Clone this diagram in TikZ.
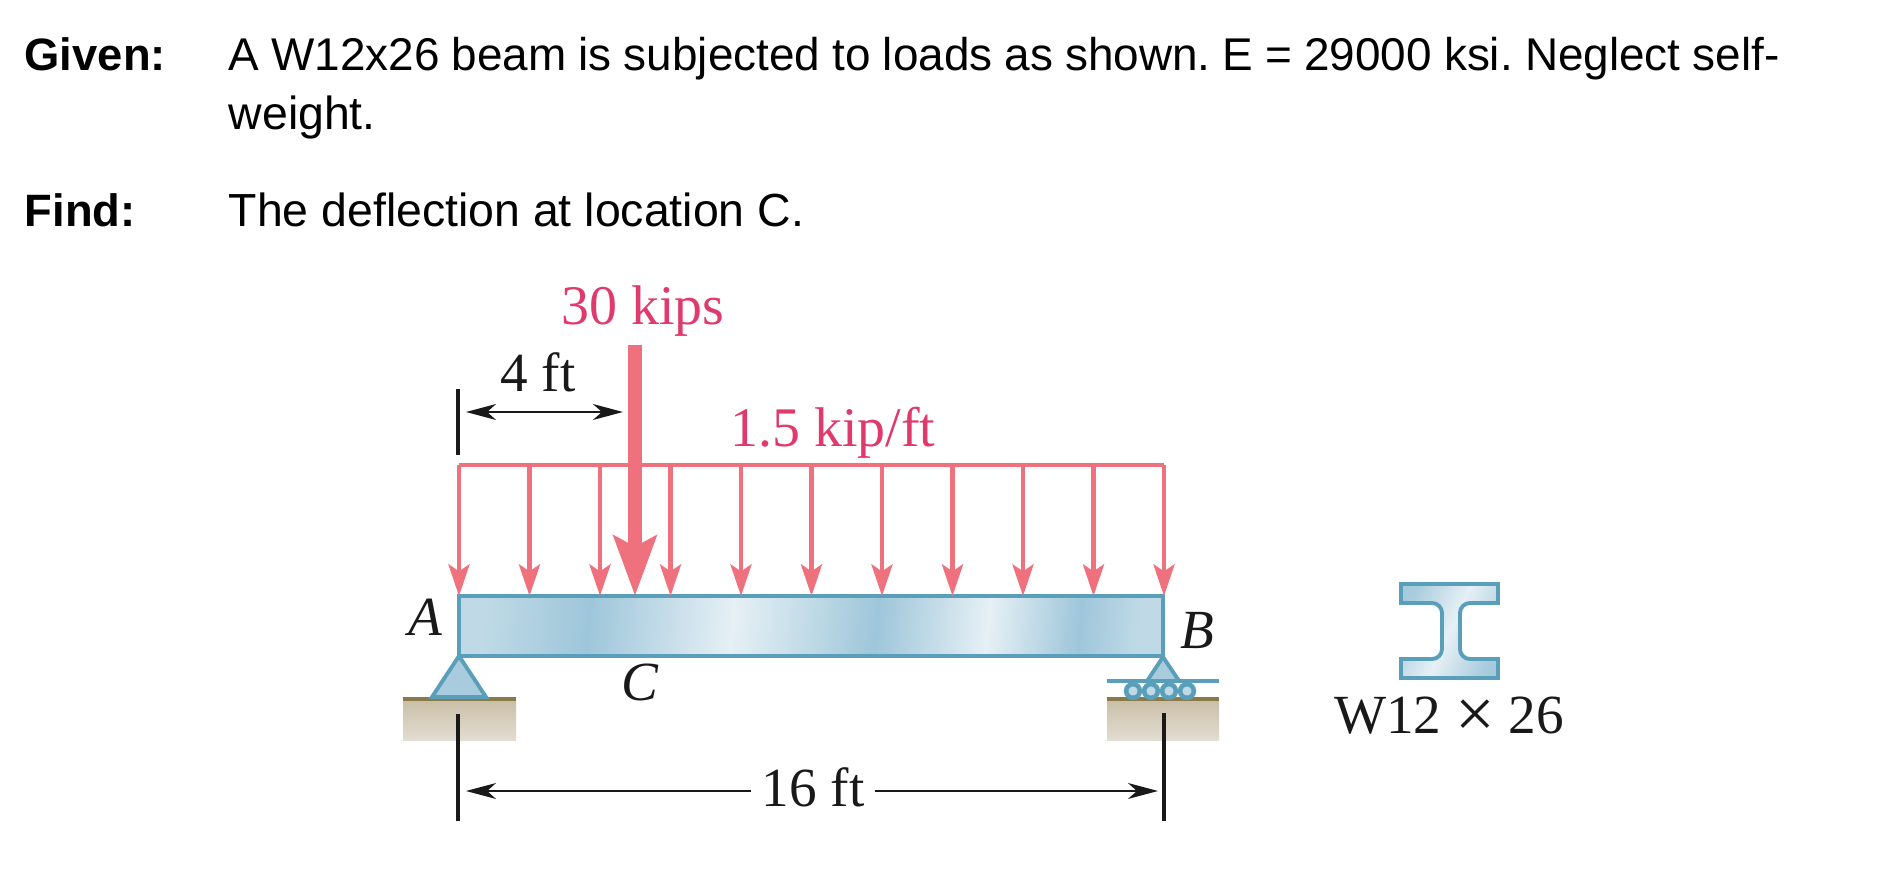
\documentclass[tikz,border=0pt]{standalone}
\usepackage{fontspec}
\setmainfont{Liberation Serif}
\setsansfont{Liberation Sans}
\newfontfamily\longsans[WordSpace=.95]{Liberation Sans}
\usetikzlibrary{arrows.meta}
\frenchspacing

\definecolor{loadpink}{HTML}{F0717E}
\definecolor{labelpink}{HTML}{E03A6C}
\definecolor{steelline}{HTML}{5A9FBA}
\definecolor{groundline}{HTML}{8A7A48}
\definecolor{groundtop}{HTML}{C9BEA6}
\definecolor{groundbot}{HTML}{E2DDD2}
\definecolor{steelA}{HTML}{BFDAE6}
\definecolor{steelB}{HTML}{9EC6DA}
\definecolor{steelC}{HTML}{E6F0F5}
\pgfdeclarehorizontalshading{beamshade}{100bp}{
    color(0bp)=(steelA); color(25bp)=(steelA); color(33bp)=(steelB); color(44bp)=(steelC);
    color(50bp)=(steelA); color(55bp)=(steelB); color(63.5bp)=(steelC); color(70.5bp)=(steelB); color(75bp)=(steelA); color(100bp)=(steelA)}
\pgfdeclarehorizontalshading{sectionshade}{100bp}{
    color(0bp)=(steelB); color(25bp)=(steelB!70!steelA); color(50bp)=(steelC); color(75bp)=(steelB!70!steelA); color(100bp)=(steelB)}

\tikzset{
    textline/.style={inner sep=0, anchor=base west, font=\sffamily\fontsize{13.2pt}{15pt}\selectfont},
    longline/.style={textline, font=\longsans\fontsize{13.05pt}{15pt}\selectfont},
    headline/.style={textline, font=\sffamily\bfseries\fontsize{12.9pt}{15pt}\selectfont},
    loadlabel/.style={inner sep=0, anchor=base, text=labelpink, font=\fontsize{15.9pt}{18pt}\selectfont},
    dimlabel/.style={inner sep=0, anchor=base, text=black!90, font=\fontsize{15.7pt}{18pt}\selectfont},
    pointlabel/.style={dimlabel, font=\itshape\fontsize{15.7pt}{18pt}\selectfont},
    dimline/.style={line width=.7pt, black!90},
    dimtips/.style={{Stealth[length=8.5pt, width=4.5pt, inset=2.5pt]}-{Stealth[length=8.5pt, width=4.5pt, inset=2.5pt]}},
    tickline/.style={line width=1.1pt, black!90},
    udlline/.style={line width=1.4pt, loadpink},
    udlarrow/.style={line width=1.25pt, loadpink, -{Stealth[length=9pt, width=6pt, inset=2pt]}},
    bigarrow/.style={line width=4pt, loadpink, -{Stealth[length=17pt, width=12pt, inset=3pt]}},
    beam/.style={draw=steelline, line width=1.2pt, shading=beamshade, shading angle=-5},
    section/.style={draw=steelline, line width=1.1pt, shading=sectionshade, shading angle=-25},
    pin/.style={draw=steelline, line width=1.1pt, fill=steelB!70!steelA},
    roller/.style={circle, draw=steelline, line width=1.3pt, fill=steelA, minimum size=3.9pt, inner sep=0},
    ground/.style={top color=groundtop, bottom color=groundbot, draw=none}
}

\begin{document}
\begin{tikzpicture}[x=.01cm, y=-.01cm]
    \useasboundingbox (0, 0) rectangle (1881, 885);

    \node[headline] (given) at (24, 71) {Given:};
    \node[longline] (line1) at (228, 71) {A W12x26 beam is subjected to loads as shown. E = 29000 ksi. Neglect self-};
    \node[textline] (line2) at (228, 130) {weight.};
    \node[headline] (find) at (24, 227) {Find:};
    \node[textline] (line3) at (228, 227) {The deflection at location C.};

    % ground and supports
    \fill[ground] (403, 699) rectangle (516, 740);
    \fill[ground] (1107, 699) rectangle (1219, 740);
    \draw[groundline, line width=1.1pt] (403, 699) -- (516, 699);
    \draw[groundline, line width=1.1pt] (1107, 699) -- (1219, 699);
    \draw[pin] (459, 656) -- (486, 697) -- (432, 697) -- cycle;
    \draw[pin] (1163, 657) -- (1179, 681) -- (1147, 681) -- cycle;
    \draw[steelline, line width=1.1pt] (1107, 681) -- (1219, 681);
    \foreach \px [count=\i] in {1133, 1151, 1169, 1187}
        \node[roller] (r\i) at (\px, 691) {};

    % beam
    \draw[beam] (459, 596) rectangle (1163, 656);
    \node[pointlabel] (a) at (425, 635) {A};
    \node[pointlabel] (b) at (1197, 648) {B};
    \node[pointlabel] (c) at (640, 700) {C};

    % uniform load
    \coordinate (udlA) at (459, 465);
    \coordinate (udlB) at (1164, 465);
    \draw[udlline] (udlA) -- (udlB);
    \foreach \i in {0,...,10} {
        \coordinate (top\i) at (459 + \i*70.5, 465);
        \coordinate (tip\i) at (459 + \i*70.5, 596);
        \draw[udlarrow] (top\i) -- (tip\i);
    }
    \node[loadlabel] (udl) at (833, 446) {1.5 kip/ft};

    % point load
    \coordinate (loadtop) at (635, 345);
    \coordinate (loadtip) at (635, 596);
    \draw[bigarrow] (loadtop) -- (loadtip);
    \node[loadlabel] (kips) at (643, 324) {30 kips};

    % dimensions
    \coordinate (t1a) at (458, 389);
    \coordinate (t1b) at (458, 455);
    \draw[tickline] (t1a) -- (t1b);
    \coordinate (d1a) at (466, 412);
    \coordinate (d1b) at (623, 412);
    \draw[dimline, dimtips] (d1a) -- (d1b);
    \node[dimlabel] (four) at (538, 391) {4 ft};

    \coordinate (t2a) at (458, 714);
    \coordinate (t2b) at (458, 821);
    \draw[tickline] (t2a) -- (t2b);
    \coordinate (t3a) at (1164, 713);
    \coordinate (t3b) at (1164, 821);
    \draw[tickline] (t3a) -- (t3b);
    \coordinate (d2a) at (466, 791);
    \coordinate (d2b) at (1158, 791);
    \draw[dimline, dimtips] (d2a) -- (d2b);
    \node[dimlabel, fill=white, inner xsep=3pt] (span) at (813, 806) {16 ft};

    % section
    \draw[section] (1401, 584) -- (1498, 584) -- (1498, 603) -- (1470, 603) to[out=180, in=90] (1460, 613) -- (1460, 649) to[out=-90, in=180] (1470, 659) -- (1498, 659) -- (1498, 678) -- (1401, 678) -- (1401, 659) -- (1432, 659) to[out=0, in=-90] (1442, 649) -- (1442, 613) to[out=90, in=0] (1432, 603) -- (1401, 603) -- cycle;
    \node[dimlabel] (sec) at (1449, 733) {W12 \raisebox{-1.3pt}{\fontsize{20pt}{18pt}\selectfont ×} 26};
\end{tikzpicture}
\end{document}
